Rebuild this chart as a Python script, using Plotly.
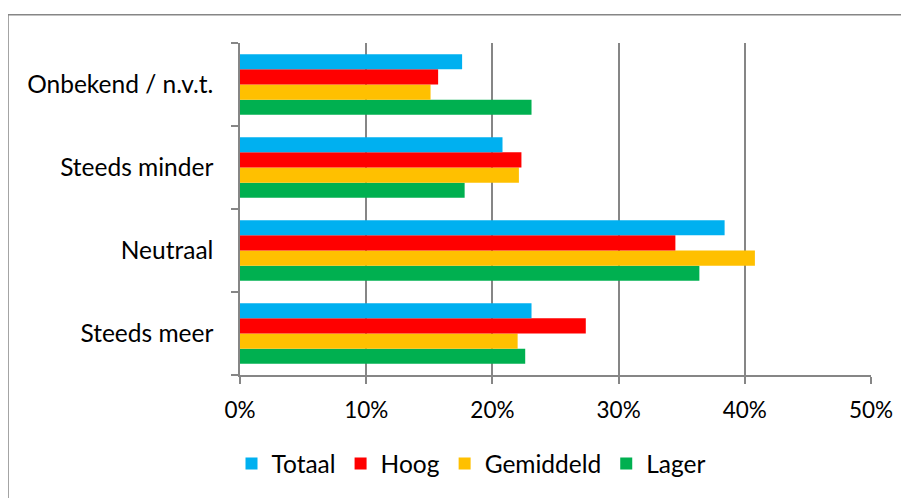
import plotly.graph_objects as go

categories = ["Steeds meer", "Neutraal", "Steeds minder", "Onbekend / n.v.t."]
series_names = ["Totaal", "Hoog", "Gemiddeld", "Lager"]
totaal = [0.231, 0.384, 0.208, 0.176]
hoog = [0.274, 0.345, 0.223, 0.157]
gemiddeld = [0.220, 0.408, 0.221, 0.151]
lager = [0.226, 0.364, 0.178, 0.231]
colors = {"Totaal": "#00B0F0", "Hoog": "#FF0000", "Gemiddeld": "#FFC000", "Lager": "#00B050"}
x_ticks = [0, 0.1, 0.2, 0.3, 0.4, 0.5]

values = {"Totaal": totaal, "Hoog": hoog, "Gemiddeld": gemiddeld, "Lager": lager}
FONT = "Lato"
GRID = "#868686"

fig = go.Figure()
for name in reversed(series_names):
    fig.add_trace(go.Bar(
        y=categories, x=values[name], name=name, orientation="h",
        marker=dict(color=colors[name], line=dict(width=0)),
    ))

# page body has an 8px margin; work in screen pixels and offset
OFF = 8
W, H = 909 - OFF, 498 - OFF
L = 240 - OFF
T = 43 - OFF
R = W - (871 - OFF)
B = H - (377 - OFF)
pw, ph = W - L - R, H - T - B

def px_x(p):
    return (p - OFF - L) / pw

def px_y(p):
    return (H - B - (p - OFF)) / ph

fig.update_layout(
    width=W, height=H,
    margin=dict(l=L, r=R, t=T, b=B),
    paper_bgcolor="white", plot_bgcolor="white",
    barmode="group", bargap=0.27, bargroupgap=0,
    font=dict(family=FONT, size=24, color="#000000"),
    showlegend=True,
    legend=dict(
        orientation="h", traceorder="reversed",
        x=px_x(471), xanchor="center", y=px_y(466), yanchor="middle",
        font=dict(family=FONT, size=24.5, color="#000000"),
        bgcolor="rgba(0,0,0,0)",
    ),
    xaxis=dict(
        range=[0, 0.5], tickvals=x_ticks, tickformat=".0%",
        showgrid=True, gridcolor=GRID, gridwidth=1.5,
        showline=True, linecolor=GRID, linewidth=1.5,
        ticks="outside", ticklen=7, tickcolor=GRID, tickwidth=1.5,
        zeroline=False, fixedrange=True,
        tickfont=dict(family=FONT, size=22.5), ticklabelstandoff=7,
    ),
    yaxis=dict(
        categoryorder="array", categoryarray=categories,
        showline=True, linecolor=GRID, linewidth=1.5,
        ticks="outside", ticklen=7, tickcolor=GRID, tickwidth=1.5,
        tickson="boundaries", showgrid=False, zeroline=False,
        tickfont=dict(family=FONT, size=24.5), ticklabelstandoff=20,
    ),
    shapes=[dict(
        type="rect", xref="paper", yref="paper",
        x0=px_x(8), x1=px_x(960), y0=px_y(14.5), y1=px_y(560),
        line=dict(color=GRID, width=1.5), fillcolor="rgba(0,0,0,0)", layer="below",
    )],
)

fig.write_html("out.html")
